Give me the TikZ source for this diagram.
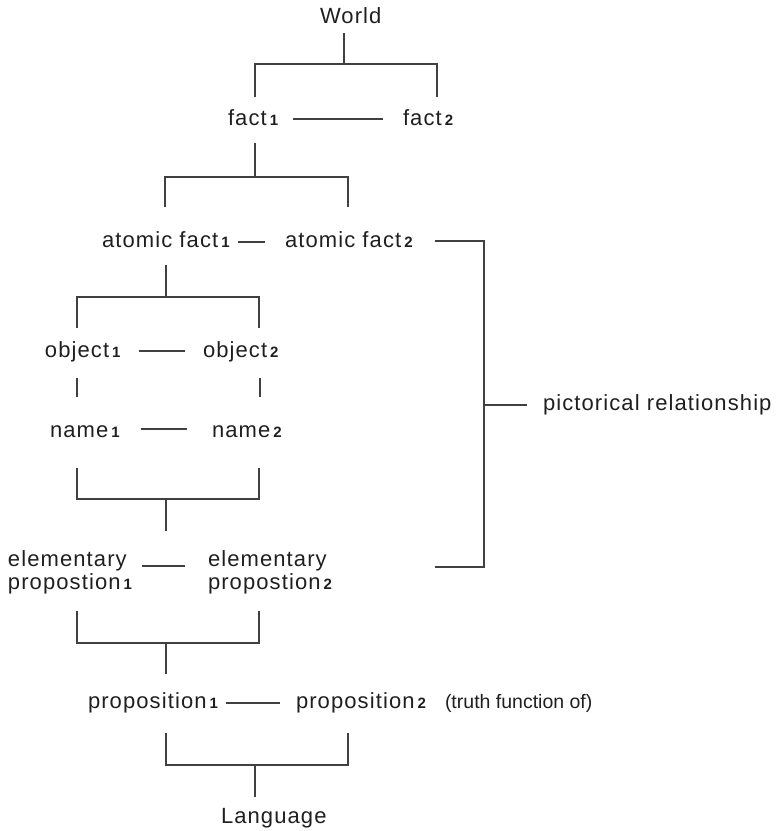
\documentclass[tikz,border=0pt]{standalone}
\usepackage{fontspec}
\setmainfont{Liberation Sans}[LetterSpace=5]
\newfontfamily\plainsans{Liberation Sans}
\usetikzlibrary{calc}
% small index digit set on the baseline
\newcommand{\idx}[1]{\kern3pt{\fontsize{15}{15}\selectfont\bfseries #1}}

\begin{document}
\begin{tikzpicture}[x=1pt,y=-1pt,
  lbl/.style={anchor=base west, inner sep=0pt, outer sep=0pt,
              font=\fontsize{22}{23}\selectfont, text=black!88},
  link/.style={draw=black!75, line width=1.3pt},
]
\useasboundingbox (0,0) rectangle (777,831);

% ---- labels ----
\node[lbl] (world) at (320,23) {World};
\node[lbl] (fact1) at (228,125) {fact\idx{1}};
\node[lbl] (fact2) at (403,125) {fact\idx{2}};
\node[lbl] (afact1) at (102,247) {atomic fact\idx{1}};
\node[lbl] (afact2) at (285,247) {atomic fact\idx{2}};
\node[lbl] (obj1) at (45,357) {object\idx{1}};
\node[lbl] (obj2) at (203,357) {object\idx{2}};
\node[lbl] (name1) at (50,437) {name\idx{1}};
\node[lbl] (name2) at (212,437) {name\idx{2}};
% two-line labels: the base anchor sits on the second line
\node[lbl, align=left] (elem1) at (8,589) {elementary\\propostion\idx{1}};
\node[lbl, align=left] (elem2) at (208,589) {elementary\\propostion\idx{2}};
\node[lbl] (prop1) at (88,708) {proposition\idx{1}};
\node[lbl] (prop2) at (296,708) {proposition\idx{2}};
\node[lbl, font=\plainsans\fontsize{19.5}{22}\selectfont] (truth) at (445,708) {(truth function of)};
\node[lbl] (pict) at (543,410) {pictorical relationship};
\node[lbl] (lang) at (221,823) {Language};

% ---- links between siblings ----
\draw[link] ([xshift=15pt,yshift=6pt]fact1.base east) -- ([xshift=-20pt,yshift=6pt]fact2.base west);
\draw[link] ([xshift=8pt,yshift=5pt]afact1.base east) -- ([xshift=-20pt,yshift=5pt]afact2.base west);
\draw[link] ([xshift=18pt,yshift=6pt]obj1.base east) -- ([xshift=-18pt,yshift=6pt]obj2.base west);
\draw[link] ([xshift=21pt,yshift=8pt]name1.base east) -- ([xshift=-25pt,yshift=8pt]name2.base west);
\draw[link] ([xshift=134pt,yshift=23pt]elem1.base west) -- ([xshift=-23pt,yshift=23pt]elem2.base west);
\draw[link] ([xshift=8pt,yshift=5pt]prop1.base east) -- ([xshift=-16pt,yshift=5pt]prop2.base west);

% ---- forks ----
\coordinate (aS) at (344,33);  \coordinate (aJ) at (344,64);
\coordinate (aL) at (255,97);  \coordinate (aR) at (437,97);
\draw[link] (aS) -- (aJ);
\draw[link] (aL) -- (aL |- aJ) -- (aR |- aJ) -- (aR);

\coordinate (bS) at (255,143); \coordinate (bJ) at (255,177);
\coordinate (bL) at (165,207); \coordinate (bR) at (348,207);
\draw[link] (bS) -- (bJ);
\draw[link] (bL) -- (bL |- bJ) -- (bR |- bJ) -- (bR);

\coordinate (cS) at (166,265); \coordinate (cJ) at (166,297);
\coordinate (cL) at (77,328);  \coordinate (cR) at (259,328);
\draw[link] (cS) -- (cJ);
\draw[link] (cL) -- (cL |- cJ) -- (cR |- cJ) -- (cR);

% object to name
\coordinate (oL1) at (77,378);  \coordinate (oL2) at (77,397);
\coordinate (oR1) at (260,378); \coordinate (oR2) at (260,397);
\draw[link] (oL1) -- (oL2);
\draw[link] (oR1) -- (oR2);

\coordinate (dL) at (77,468);  \coordinate (dR) at (259,468);
\coordinate (dJ) at (166,499); \coordinate (dS) at (166,531);
\draw[link] (dL) -- (dL |- dJ) -- (dR |- dJ) -- (dR);
\draw[link] (dJ) -- (dS);

\coordinate (eL) at (77,611);  \coordinate (eR) at (259,611);
\coordinate (eJ) at (166,643); \coordinate (eS) at (166,674);
\draw[link] (eL) -- (eL |- eJ) -- (eR |- eJ) -- (eR);
\draw[link] (eJ) -- (eS);

\coordinate (fL) at (166,733); \coordinate (fR) at (348,733);
\coordinate (fJ) at (255,765); \coordinate (fS) at (255,797);
\draw[link] (fL) -- (fL |- fJ) -- (fR |- fJ) -- (fR);
\draw[link] (fJ) -- (fS);

% ---- pictorical relationship bracket ----
\coordinate (rT) at (435,241); \coordinate (rB) at (435,567);
\coordinate (rM) at (484,405);
\draw[link] (rT) -| (rM) |- (rB);
\draw[link] (rM) -- ($(pict.west |- rM)+(-16,0)$);
\end{tikzpicture}
\end{document}
